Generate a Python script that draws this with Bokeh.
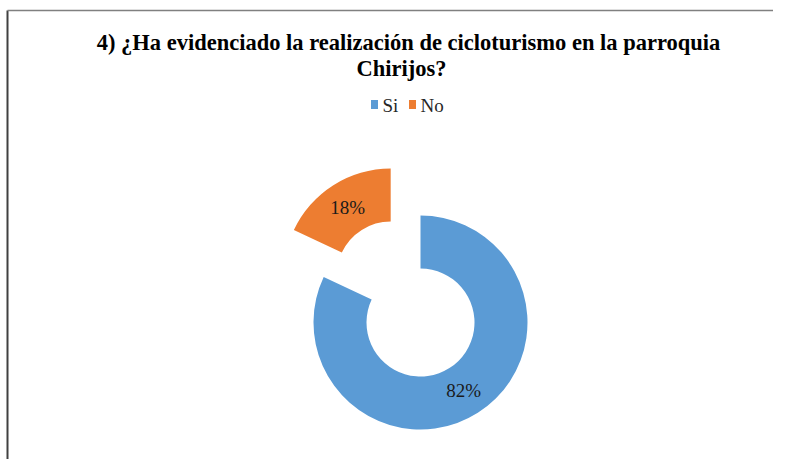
import math
from bokeh.plotting import figure
from bokeh.models import Range1d
from bokeh.core.properties import value
from bokeh.embed import file_html
from bokeh.resources import INLINE

# ---- data ----
categories = ["Si", "No"]
percent = [82, 18]
colors = ["#5B9BD5", "#ED7D31"]
title_lines = ["4) ¿Ha evidenciado la realización de cicloturismo en la parroquia",
               "Chirijos?"]

# ---- layout constants (page pixels, y up) ----
W, H = 773, 459
CX, CY = 420, H - 322
R_OUT, R_IN = 107, 54
EXPLODE = [0.0, 0.52]          # fraction of outer radius
FONT = "Liberation Serif"

p = figure(width=W, height=H, x_range=Range1d(0, W), y_range=Range1d(0, H),
           x_axis_type=None, y_axis_type=None, output_backend="svg",
           toolbar_location=None, min_border=0)
p.grid.visible = False
p.outline_line_color = None
p.background_fill_color = "white"
p.border_fill_color = "white"

total = float(sum(percent))
cum = 0.0
xs, ys, starts, ends, lx, ly, labels = [], [], [], [], [], [], []
for i, v in enumerate(percent):
    f0 = cum / total
    f1 = (cum + v) / total
    cum += v
    a_start = math.pi / 2 - f1 * 2 * math.pi
    a_end = math.pi / 2 - f0 * 2 * math.pi
    mid = (a_start + a_end) / 2
    d = EXPLODE[i] * R_OUT
    cx = CX + d * math.cos(mid)
    cy = CY + d * math.sin(mid)
    xs.append(cx); ys.append(cy); starts.append(a_start); ends.append(a_end)
    rl = (R_IN + R_OUT) / 2
    lx.append(cx + rl * math.cos(mid)); ly.append(cy + rl * math.sin(mid))
    labels.append(f"{v}%")

p.annular_wedge(x=xs, y=ys, inner_radius=R_IN, outer_radius=R_OUT,
                start_angle=starts, end_angle=ends, direction="anticlock",
                fill_color=colors, line_color="white", line_width=0)

p.text(x=lx, y=ly, text=labels, text_align="center", text_baseline="middle",
       text_font=value(FONT), text_font_size="19px", text_color="#1a1a1a")

# title
p.text(x=[408, 401], y=[H - 42, H - 68], text=title_lines, text_align="center",
       text_baseline="alphabetic", text_font=value(FONT), text_font_size="22.5px",
       text_font_style="bold", text_color="#000000")

# legend (manual, centered)
sq_x = [374, 412]
p.rect(x=sq_x, y=[H - 104, H - 104], width=7, height=9, fill_color=colors, line_color=None)
p.text(x=[382, 420], y=[H - 105, H - 105], text=categories, text_align="left",
       text_baseline="alphabetic", text_font=value(FONT), text_font_size="19px",
       text_color="#262626")

# chart frame (left and top edges visible)
p.segment(x0=[7, 7], y0=[0, H - 10], x1=[7, W], y1=[H - 10, H - 10],
          line_color=["#404040", "#808080"], line_width=[2, 1.5])

open("out.html", "w").write(file_html(p, INLINE))
